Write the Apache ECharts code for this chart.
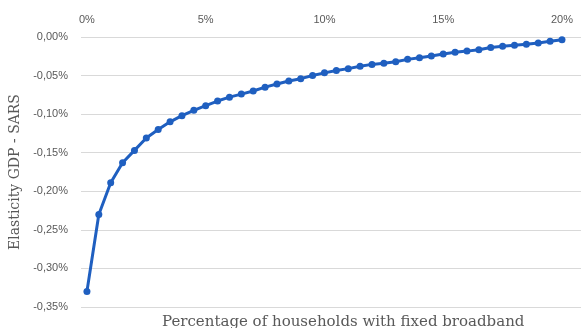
<!DOCTYPE html>
<html>
<head>
<meta charset="utf-8">
<script src="https://cdn.jsdelivr.net/npm/echarts@6/dist/echarts.min.js"></script>
<style>
  html, body { margin: 0; padding: 0; background: #fff; }
  #chart { width: 581px; height: 328px; }
</style>
</head>
<body>
<div id="chart"></div>
<script>
  // household broadband share (%), step 0.5
  const broadband = [];
  for (let i = 0; i <= 40; i++) broadband.push(i * 0.5);

  // elasticity GDP - SARS (%)
  const elasticity = [
    -0.330, -0.230, -0.189, -0.163, -0.147, -0.131, -0.120, -0.110, -0.102, -0.095,
    -0.089, -0.083, -0.078, -0.074, -0.070, -0.065, -0.061, -0.057, -0.054, -0.050,
    -0.0465, -0.0435, -0.041, -0.038, -0.0355, -0.034, -0.032, -0.029, -0.027, -0.0245,
    -0.022, -0.0198, -0.0183, -0.0165, -0.0135, -0.012, -0.0108, -0.0095, -0.0078, -0.0055,
    -0.0035
  ];

  const xTicks = [0, 5, 10, 15, 20];

  const points = broadband.map((x, i) => [x, elasticity[i]]);

  const grey = '#595959';
  let myChart = echarts.init(document.getElementById('chart'));
  myChart.setOption({
    animation: false,
    title: {
      text: 'Percentage of households with fixed broadband',
      left: 157,
      top: 310,
      textStyle: { fontFamily: 'DejaVu Serif', fontSize: 15, fontWeight: 'normal', color: grey }
    },
    grid: { left: 81, right: 0, top: 37, bottom: 21 },
    xAxis: {
      type: 'value',
      position: 'top',
      min: -0.25,
      max: 20.8,
      axisLine: { show: false },
      axisTick: { show: false },
      splitLine: { show: false },
      axisLabel: {
        customValues: xTicks,
        formatter: v => v + '%',
        color: grey,
        fontSize: 11,
        margin: 12
      }
    },
    yAxis: {
      type: 'value',
      min: -0.35,
      max: 0,
      interval: 0.05,
      name: 'Elasticity GDP - SARS',
      nameLocation: 'middle',
      nameGap: 58,
      nameTextStyle: { fontFamily: 'DejaVu Serif', fontSize: 14, color: grey },
      axisLine: { show: false },
      axisTick: { show: false },
      splitLine: { lineStyle: { color: '#d9d9d9', width: 1 } },
      axisLabel: {
        formatter: v => v.toFixed(2).replace('.', ',') + '%',
        color: grey,
        fontSize: 11,
        margin: 13
      }
    },
    series: [{
      type: 'line',
      data: points,
      symbol: 'circle',
      symbolSize: 7,
      lineStyle: { color: '#1f5fc0', width: 3 },
      itemStyle: { color: '#1f5fc0' }
    }]
  });
</script>
</body>
</html>
